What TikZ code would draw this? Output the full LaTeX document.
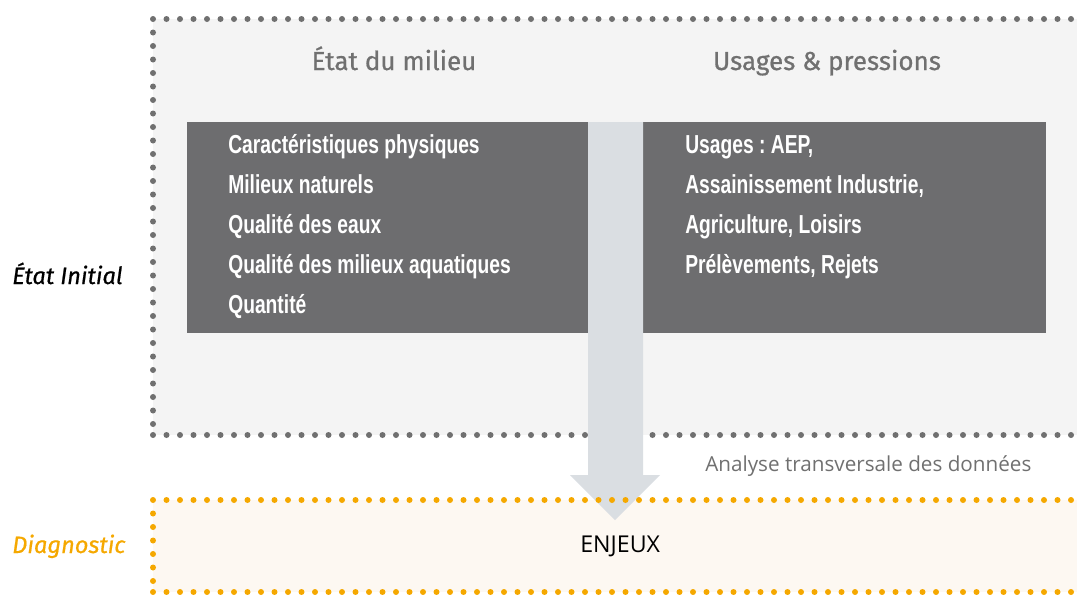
\documentclass[tikz,border=0pt]{standalone}
\usepackage{fontspec}
\setmainfont{Open Sans}
\newfontfamily\headfont[FakeBold=0.7]{Fira Sans}
\newfontfamily\condfont[FakeStretch=0.74]{Liberation Sans}
\definecolor{boxgray}{HTML}{6D6D6F}
\definecolor{panelgray}{HTML}{F4F4F4}
\definecolor{dotgray}{HTML}{707070}
\definecolor{arrowgray}{HTML}{DADEE2}
\definecolor{diagorange}{HTML}{F5A800}
\definecolor{diagcream}{HTML}{FDF8F2}
\tikzset{
  heading/.style={anchor=base, text=dotgray, font=\headfont\fontsize{18.5}{22}\selectfont},
  item/.style={anchor=base west, text=white, inner sep=0pt, font=\condfont\bfseries\fontsize{18.5}{20}\selectfont},
  sidelabel/.style={anchor=base west, inner sep=0pt, font=\headfont\itshape\fontsize{16.8}{20}\selectfont}
}
\frenchspacing
\begin{document}
\begin{tikzpicture}[x=0.025cm, y=-0.025cm]
  \useasboundingbox (0,0) rectangle (1077,594);

  %% backgrounds
  \fill[panelgray] (153,19) rectangle (1077,435);
  \fill[diagcream] (153,500) rectangle (1077,592);
  \fill[boxgray] (187,122) rectangle (1046,333);

  %% etat initial frame, dot by dot
  \foreach \x in {153,166.5,...,1077} {
    \fill[dotgray] (\x,19) circle (3);
    \fill[dotgray] (\x,435) circle (3);
  }
  \foreach \y in {32.5,46,...,428} \fill[dotgray] (153,\y) circle (3);

  %% big arrow
  \fill[arrowgray] (588,122) -- (643,122) -- (643,475) -- (660,475)
    -- (615,520) -- (570,475) -- (588,475) -- cycle;

  %% diagnostic frame
  \foreach \x in {153,166.5,...,1077} {
    \fill[diagorange] (\x,500) circle (3);
    \fill[diagorange] (\x,592) circle (3);
  }
  \foreach \y in {513.5,527,...,585} \fill[diagorange] (153,\y) circle (3);

  %% headings
  \node[heading] (etat) at (394,70) {État du milieu};
  \node[heading] (usages) at (827,70) {Usages \& pressions};

  %% left column
  \node[item] (car) at (228,153) {Caractéristiques physiques};
  \node[item] (mil) at (228,193) {Milieux naturels};
  \node[item] (qea) at (228,233) {Qualité des eaux};
  \node[item] (qma) at (228,273) {Qualité des milieux aquatiques};
  \node[item] (qte) at (228,313) {Quantité};

  %% right column
  \node[item] (aep) at (685,153) {Usages : AEP,};
  \node[item] (ass) at (685,193) {Assainissement Industrie,};
  \node[item] (agr) at (685,233) {Agriculture, Loisirs};
  \node[item] (pre) at (685,273) {Prélèvements, Rejets};

  %% side labels
  \node[sidelabel] (init) at (12,284) {État Initial};
  \node[sidelabel, text=diagorange] (diag) at (12,553) {Diagnostic};

  \node[anchor=base west, inner sep=0pt, font=\fontsize{16.5}{18}\selectfont] (enjeux) at (580,552) {ENJEUX};
  \node[anchor=base west, inner sep=0pt, text=dotgray, font=\fontsize{14.7}{16}\selectfont] (analyse) at (705,471) {Analyse transversale des données};
\end{tikzpicture}
\end{document}
